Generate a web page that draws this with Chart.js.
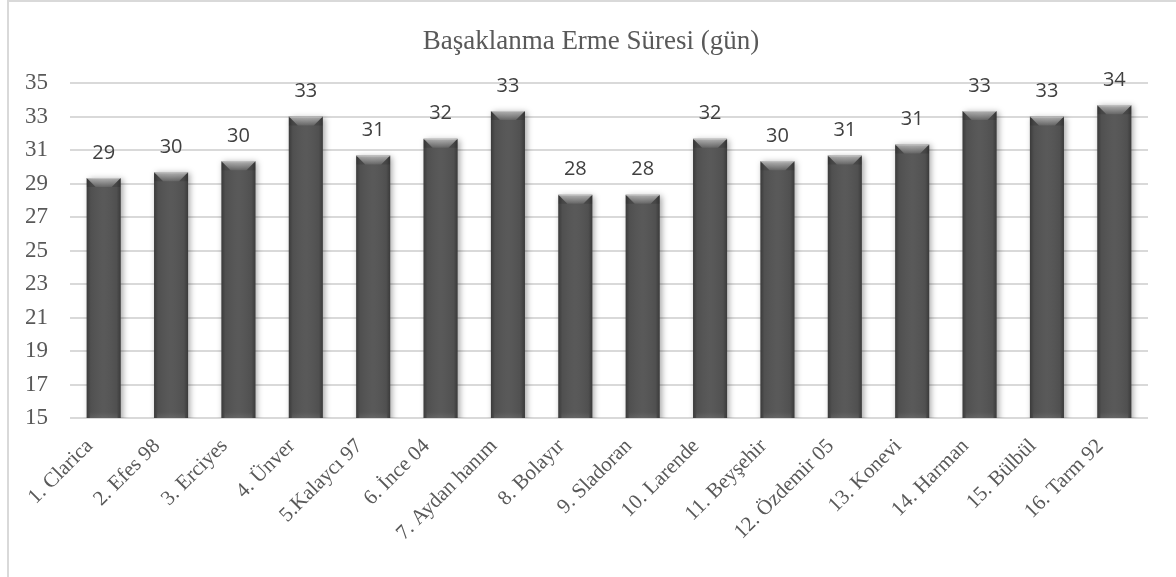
<!DOCTYPE html>
<html lang="tr">
<head>
<meta charset="utf-8">
<title>Başaklanma Erme Süresi</title>
<script src="https://cdn.jsdelivr.net/npm/chart.js@4.4.1/dist/chart.umd.min.js"></script>
<style>
  html, body { margin: 0; padding: 0; background: #ffffff; overflow: hidden; }
  #wrap { position: relative; width: 1176px; height: 577px; }
  #frame {
    position: absolute; left: 7px; top: 0; width: 1200px; height: 600px;
    border-left: 2px solid #d9d9d9; border-top: 2px solid #d9d9d9;
    pointer-events: none;
  }
  canvas { position: absolute; left: 0; top: 0; }
</style>
</head>
<body>
<div id="wrap">
  <canvas id="chart" width="1176" height="577"></canvas>
  <div id="frame"></div>
</div>
<script>
// Cultivars
const categories = [
  '1. Clarica', '2. Efes 98', '3. Erciyes', '4. Ünver', '5.Kalaycı 97',
  '6. İnce 04', '7. Aydan hanım', '8. Bolayır', '9. Sladoran', '10. Larende',
  '11. Beyşehir', '12. Özdemir 05', '13. Konevi', '14. Harman', '15. Bülbül',
  '16. Tarm 92'
];

// Days to maturity after heading (mean values)
const days = [
  29.33, 29.67, 30.33, 33.0, 30.67,
  31.67, 33.33, 28.33, 28.33, 31.67,
  30.33, 30.67, 31.33, 33.33, 33.0,
  33.67
];

// Value axis range
const yMin = 15;
const yMax = 35;
const yStep = 2;

const titleText = 'Başaklanma Erme Süresi (gün)';

// Title centred over the whole framed area
const titlePlugin = {
  id: 'centredTitle',
  afterDraw(chart) {
    const ctx = chart.ctx;
    ctx.save();
    ctx.font = '27px "Liberation Serif", "Times New Roman", serif';
    ctx.fillStyle = '#595959';
    ctx.textAlign = 'center';
    ctx.textBaseline = 'middle';
    ctx.fillText(titleText, 591, 42);
    ctx.restore();
  }
};

// Soft drop shadow under the bars, then a bevelled top and shaded edges
const bevelPlugin = {
  id: 'bevel',
  beforeDatasetsDraw(chart) {
    const ctx = chart.ctx;
    ctx.save();
    ctx.shadowColor = 'rgba(0,0,0,0.35)';
    ctx.shadowBlur = 6;
    ctx.shadowOffsetX = 2;
    ctx.shadowOffsetY = 1;
  },
  afterDatasetsDraw(chart) {
    const ctx = chart.ctx;
    ctx.restore();
    const area = chart.chartArea;
    const meta = chart.getDatasetMeta(0);
    meta.data.forEach(bar => {
      const w = bar.width;
      const x0 = bar.x - w / 2;
      const x1 = bar.x + w / 2;
      const top = bar.y;
      const bottom = Math.min(bar.base, area.bottom);
      const h = 9;
      ctx.save();
      // darker sides
      const side = ctx.createLinearGradient(x0, 0, x1, 0);
      side.addColorStop(0, 'rgba(0,0,0,0.30)');
      side.addColorStop(0.12, 'rgba(0,0,0,0.05)');
      side.addColorStop(0.5, 'rgba(255,255,255,0.03)');
      side.addColorStop(0.88, 'rgba(0,0,0,0.05)');
      side.addColorStop(1, 'rgba(0,0,0,0.30)');
      ctx.fillStyle = side;
      ctx.fillRect(x0, top, w, bottom - top);
      // bevel: light face on top
      const face = ctx.createLinearGradient(0, top, 0, top + h);
      face.addColorStop(0, 'rgba(255,255,255,0.55)');
      face.addColorStop(1, 'rgba(255,255,255,0.08)');
      ctx.fillStyle = face;
      ctx.beginPath();
      ctx.moveTo(x0, top);
      ctx.lineTo(x1, top);
      ctx.lineTo(x1 - h, top + h);
      ctx.lineTo(x0 + h, top + h);
      ctx.closePath();
      ctx.fill();
      // bevel: shaded side facets
      ctx.fillStyle = 'rgba(0,0,0,0.12)';
      ctx.beginPath();
      ctx.moveTo(x0, top);
      ctx.lineTo(x0 + h, top + h);
      ctx.lineTo(x0, top + h);
      ctx.closePath();
      ctx.fill();
      ctx.beginPath();
      ctx.moveTo(x1, top);
      ctx.lineTo(x1 - h, top + h);
      ctx.lineTo(x1, top + h);
      ctx.closePath();
      ctx.fill();
      // thin rim along the top edge
      ctx.fillStyle = 'rgba(255,255,255,0.25)';
      ctx.fillRect(x0, top, w, 1);
      // faint lighter foot
      const foot = ctx.createLinearGradient(0, bottom - 6, 0, bottom);
      foot.addColorStop(0, 'rgba(255,255,255,0)');
      foot.addColorStop(1, 'rgba(255,255,255,0.08)');
      ctx.fillStyle = foot;
      ctx.fillRect(x0 + 3, bottom - 6, w - 6, 6);
      ctx.restore();
    });
  }
};

// Rounded value written above each bar
const valueLabels = {
  id: 'valueLabels',
  afterDatasetsDraw(chart) {
    const ctx = chart.ctx;
    const meta = chart.getDatasetMeta(0);
    const values = chart.data.datasets[0].data;
    ctx.save();
    ctx.font = '20px "Open Sans", sans-serif';
    ctx.fillStyle = '#404040';
    ctx.textAlign = 'center';
    ctx.textBaseline = 'middle';
    meta.data.forEach((bar, i) => {
      ctx.fillText(String(Math.round(values[i])), bar.x, bar.y - 25);
    });
    ctx.restore();
  }
};

new Chart(document.getElementById('chart'), {
  type: 'bar',
  data: {
    labels: categories,
    datasets: [{
      data: days,
      backgroundColor: '#545454',
      borderWidth: 0,
      barPercentage: 0.505,
      categoryPercentage: 1.0
    }]
  },
  options: {
    responsive: false,
    animation: false,
    devicePixelRatio: 1,
    layout: { padding: { left: 0, right: 28, top: 83, bottom: 0 } },
    plugins: {
      legend: { display: false },
      tooltip: { enabled: false },
      title: { display: false }
    },
    scales: {
      x: {
        grid: { display: false },
        border: { display: false },
        ticks: {
          autoSkip: false,
          minRotation: 45,
          maxRotation: 45,
          padding: 8,
          labelOffset: -14,
          color: '#595959',
          font: { family: '"Liberation Serif", "Times New Roman", serif', size: 21 }
        },
        afterFit(scale) { scale.height = 159; }
      },
      y: {
        min: yMin,
        max: yMax,
        ticks: {
          stepSize: yStep,
          padding: 22,
          color: '#595959',
          font: { family: '"Liberation Serif", "Times New Roman", serif', size: 23 }
        },
        grid: { color: '#d9d9d9', lineWidth: 2, drawTicks: false },
        border: { display: false },
        afterFit(scale) { scale.width = 70; }
      }
    }
  },
  plugins: [bevelPlugin, valueLabels, titlePlugin]
});
</script>
</body>
</html>
